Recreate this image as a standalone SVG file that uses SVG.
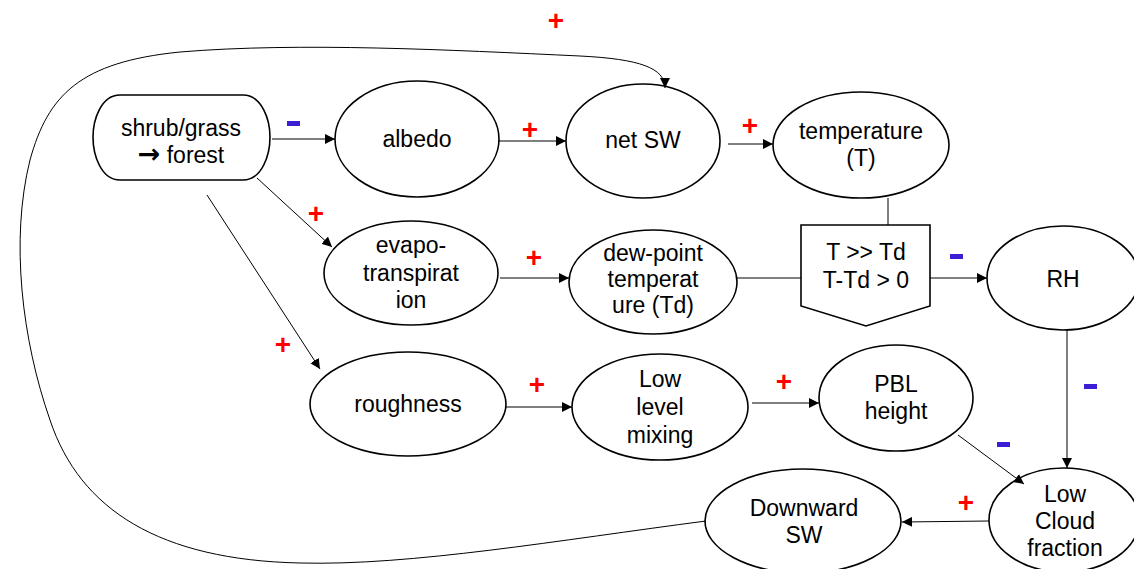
<svg xmlns="http://www.w3.org/2000/svg" width="1134" height="569" viewBox="0 0 1134 569">
<style>
.n{fill:#fff;stroke:#000;stroke-width:1.6}
.t{font-family:"Liberation Sans",Arial,sans-serif;font-size:23px;fill:#000;text-anchor:middle}
.e{fill:none;stroke:#000;stroke-width:1}
.p{font-family:"Liberation Sans",Arial,sans-serif;font-size:28px;font-weight:bold;fill:#ff0000;text-anchor:middle}
.m{fill:#3a1fd6}
</style>
<defs>
<marker id="a" viewBox="0 0 10 10" refX="10" refY="5" markerWidth="10" markerHeight="10" markerUnits="userSpaceOnUse" orient="auto">
<path d="M0,0 L10,5 L0,10 Z" fill="#000"/>
</marker>
</defs>
<g id="shrub">
<path class="n" d="M120,95 H243 C262,95 270,120 270,137 C270,155 262,180 243,180 H120 C101,180 93,155 93,137 C93,120 101,95 120,95 Z"/>
<text class="t" x="181" y="136">shrub/grass</text>
<text class="t" x="181" y="163"><tspan font-family="DejaVu Sans" font-weight="bold" font-size="27">→</tspan> forest</text>
</g>
<g id="albedo">
<ellipse class="n" cx="417" cy="139" rx="82" ry="58"/>
<text class="t" x="417" y="147">albedo</text>
</g>
<g id="netSW">
<ellipse class="n" cx="643" cy="141" rx="77" ry="57"/>
<text class="t" x="643" y="148">net SW</text>
</g>
<g id="temperature">
<ellipse class="n" cx="861" cy="145" rx="88" ry="53"/>
<text class="t" x="861" y="139">temperature</text>
<text class="t" x="861" y="166">(T)</text>
</g>
<g id="condition">
<path class="n" d="M801,225 L930,225 L930,306 L866,326 L801,306 Z"/>
<text class="t" x="866" y="260">T &gt;&gt; Td</text>
<text class="t" x="866" y="288">T-Td &gt; 0</text>
</g>
<g id="RH">
<ellipse class="n" cx="1063" cy="278" rx="76" ry="52"/>
<text class="t" x="1063" y="287">RH</text>
</g>
<g id="evapo">
<ellipse class="n" cx="411" cy="273" rx="87" ry="52"/>
<text class="t" x="411" y="253">evapo-</text>
<text class="t" x="411" y="281">transpirat</text>
<text class="t" x="411" y="308">ion</text>
</g>
<g id="dewpoint">
<ellipse class="n" cx="653" cy="282" rx="84" ry="52"/>
<text class="t" x="653" y="261">dew-point</text>
<text class="t" x="653" y="287">temperat</text>
<text class="t" x="653" y="313">ure (Td)</text>
</g>
<g id="roughness">
<ellipse class="n" cx="408" cy="404" rx="98" ry="52"/>
<text class="t" x="408" y="412">roughness</text>
</g>
<g id="mixing">
<ellipse class="n" cx="660" cy="407" rx="88" ry="53"/>
<text class="t" x="660" y="387">Low</text>
<text class="t" x="660" y="415">level</text>
<text class="t" x="660" y="443">mixing</text>
</g>
<g id="PBL">
<ellipse class="n" cx="896" cy="398" rx="77" ry="53"/>
<text class="t" x="896" y="392">PBL</text>
<text class="t" x="896" y="419">height</text>
</g>
<g id="lowcloud">
<ellipse class="n" cx="1064" cy="520" rx="75" ry="52"/>
<text class="t" x="1065" y="502">Low</text>
<text class="t" x="1065" y="529">Cloud</text>
<text class="t" x="1065" y="556">fraction</text>
</g>
<g id="downSW">
<ellipse class="n" cx="803" cy="521" rx="98" ry="52"/>
<text class="t" x="804" y="516">Downward</text>
<text class="t" x="804" y="543">SW</text>
</g>
<g id="connectors">
<line class="e" x1="272" y1="139" x2="335" y2="139" marker-end="url(#a)"/>
<line class="e" x1="498" y1="141" x2="566" y2="141" marker-end="url(#a)"/>
<line class="e" x1="728" y1="144" x2="773" y2="144" marker-end="url(#a)"/>
<line class="e" x1="257" y1="178" x2="332" y2="247" marker-end="url(#a)"/>
<line class="e" x1="207" y1="195" x2="320" y2="369" marker-end="url(#a)"/>
<line class="e" x1="500" y1="278" x2="569" y2="278" marker-end="url(#a)"/>
<line class="e" x1="737" y1="278" x2="801" y2="278"/>
<line class="e" x1="888" y1="198" x2="888" y2="225"/>
<line class="e" x1="930" y1="278" x2="987" y2="278" marker-end="url(#a)"/>
<line class="e" x1="1067" y1="330" x2="1067" y2="468" marker-end="url(#a)"/>
<line class="e" x1="506" y1="407" x2="572" y2="407" marker-end="url(#a)"/>
<line class="e" x1="752" y1="403" x2="819" y2="403" marker-end="url(#a)"/>
<line class="e" x1="958" y1="435" x2="1024" y2="484" marker-end="url(#a)"/>
<line class="e" x1="989" y1="521" x2="902" y2="522" marker-end="url(#a)"/>
<path class="e" stroke-width="1.5" d="M706,521 C560,540 410,566 300,563 C160,560 80,510 50,420 C22,340 10,240 30,160 C48,95 80,62 180,52 C300,42 450,50 580,56 C640,59 665,68 665,88" marker-end="url(#a)"/>
<text class="p" x="556" y="30">+</text>
<rect class="m" x="287" y="121" width="13" height="5"/>
<text class="p" x="530" y="139">+</text>
<text class="p" x="750" y="135">+</text>
<text class="p" x="316" y="223">+</text>
<text class="p" x="283" y="354">+</text>
<text class="p" x="534" y="267">+</text>
<rect class="m" x="950" y="254" width="13" height="5"/>
<rect class="m" x="1084" y="384" width="13" height="5"/>
<text class="p" x="537" y="394">+</text>
<text class="p" x="784" y="391">+</text>
<rect class="m" x="997" y="442" width="13" height="5"/>
<text class="p" x="966" y="512">+</text>
</g>
</svg>
